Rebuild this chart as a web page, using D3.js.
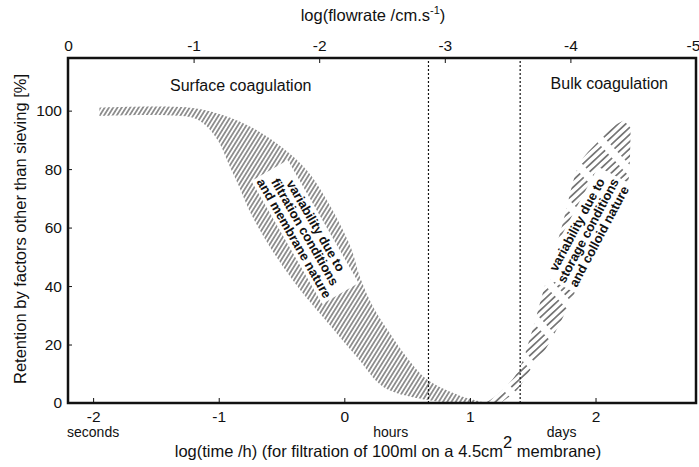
<!DOCTYPE html>
<html>
<head>
<meta charset="utf-8">
<script src="https://cdn.jsdelivr.net/npm/d3@7"></script>
<style>
  body { margin: 0; background: #fff; }
  text { font-family: "Liberation Sans", Arial, Helvetica, sans-serif; fill: #111; }
</style>
</head>
<body>
<svg id="chart" width="699" height="467"></svg>
<script>
// Axis ticks
const timeTicks = [-2, -1, 0, 1, 2];            // log(time /h)
const flowTicks = [0, -1, -2, -3, -4, -5];      // log(flowrate /cm.s-1)
const retentionTicks = [0, 20, 40, 60, 80, 100];
const unitLabels = [
  { at: -2.0, text: "seconds" },
  { at: 0.37, text: "hours" },
  { at: 1.73, text: "days" }
];
// Boundaries between surface and bulk coagulation regimes (log time)
const regimeBounds = [0.67, 1.40];

// Band of variability due to filtration conditions and membrane nature
const filtrationOuter = [[-1.95,101],[-1.23,101],[-0.97,98.5],[-0.70,93.4],[-0.49,87.2],[-0.30,79.7],[-0.14,69.4],[0.05,53.4],[0.125,43],[0.23,32.8],[0.36,24],[0.50,15.5],[0.66,8],[0.92,2.5],[1.14,0]];
const filtrationInner = [[-1.95,98.2],[-1.23,97.8],[-1.12,95.5],[-1.01,90],[-0.91,80.7],[-0.85,75.2],[-0.73,63.6],[-0.54,49.9],[-0.35,38.6],[-0.17,29.4],[0.10,15.7],[0.31,5.5],[0.60,1.5],[0.84,0]];
// Band of variability due to storage conditions and colloid nature
const storageUpper = [[1.12,0],[1.20,2.2],[1.375,10.3],[1.49,23.9],[1.58,37.6],[1.73,60],[1.876,82],[2.01,88.9],[2.155,95],[2.27,97.5]];
const storageLower = [[1.24,0],[1.375,4.4],[1.48,11.3],[1.614,19.2],[1.82,36.3],[2.0,54],[2.17,69.4],[2.25,74],[2.275,85],[2.28,97.5]];

const svg = d3.select("#chart");
const plotLeft = 68, plotRight = 696, plotTop = 58, plotBottom = 403;

const x = d3.scaleLinear().domain([-2.2, 2.8]).range([plotLeft, plotRight]);
const xFlow = d3.scaleLinear().domain([0, -5]).range([plotLeft, plotRight]);
const y = d3.scaleLinear().domain([0, 118]).range([plotBottom, plotTop]);

// Hatch patterns
const defs = svg.append("defs");
const p1 = defs.append("pattern").attr("id", "hatchFiltration")
  .attr("patternUnits", "userSpaceOnUse").attr("width", 3.6).attr("height", 10)
  .attr("patternTransform", "rotate(32)");
p1.append("line").attr("x1", 1.8).attr("y1", 0).attr("x2", 1.8).attr("y2", 10)
  .attr("stroke", "#111").attr("stroke-width", 0.9);
const p2 = defs.append("pattern").attr("id", "hatchStorage")
  .attr("patternUnits", "userSpaceOnUse").attr("width", 5.2).attr("height", 34)
  .attr("patternTransform", "rotate(47)");
p2.append("line").attr("x1", 2.6).attr("y1", 0).attr("x2", 2.6).attr("y2", 34)
  .attr("stroke", "#111").attr("stroke-width", 1).attr("stroke-dasharray", "26,8");

const line = d3.line().x(d => x(d[0])).y(d => y(d[1])).curve(d3.curveCatmullRom.alpha(0.5));
function bandPath(a, b) {
  return line(a) + line(b.slice().reverse()).replace(/^M/, "L") + "Z";
}

svg.append("path").attr("d", bandPath(filtrationOuter, filtrationInner))
  .attr("fill", "url(#hatchFiltration)");
svg.append("path").attr("d", bandPath(storageUpper, storageLower))
  .attr("fill", "url(#hatchStorage)");

// Regime boundaries
svg.selectAll("line.bound").data(regimeBounds).join("line")
  .attr("class", "bound")
  .attr("x1", d => x(d)).attr("x2", d => x(d))
  .attr("y1", y(0)).attr("y2", y(118))
  .attr("stroke", "#111").attr("stroke-width", 1.2).attr("stroke-dasharray", "2,2");

// Band annotations on a white ground
function bandNote(cx, cy, angle, lines) {
  const g = svg.append("g").attr("transform", `translate(${x(cx)},${y(cy)}) rotate(${angle})`);
  const t = g.append("text").attr("text-anchor", "middle")
    .attr("font-size", 13).attr("font-weight", "bold");
  lines.forEach((s, i) => {
    t.append("tspan").attr("x", 0).attr("y", (i - (lines.length - 1) / 2) * 12.5 + 4.5).text(s);
  });
  const bb = t.node().getBBox();
  g.insert("rect", "text").attr("x", bb.x - 3).attr("y", bb.y - 1)
    .attr("width", bb.width + 6).attr("height", bb.height + 2).attr("fill", "#fff");
}
bandNote(-0.313, 58.5, 60, ["variability due to", "filtration conditions", "and membrane nature"]);
bandNote(1.94, 59, -62, ["variability due to", "storage conditions", "and colloid nature"]);

// Axes
const axB = svg.append("g").attr("transform", `translate(0,${plotBottom})`)
  .call(d3.axisBottom(x).tickValues(timeTicks).tickSize(-5).tickPadding(8));
const axT = svg.append("g").attr("transform", `translate(0,${plotTop})`)
  .call(d3.axisTop(xFlow).tickValues(flowTicks).tickSize(-5).tickPadding(7));
const axL = svg.append("g").attr("transform", `translate(${plotLeft},0)`)
  .call(d3.axisLeft(y).tickValues(retentionTicks).tickSize(-4).tickPadding(6));
[axB, axT, axL].forEach(a => {
  a.select(".domain").remove();
  a.selectAll(".tick line").attr("stroke", "#111").attr("stroke-width", 1);
  a.selectAll(".tick text").attr("font-size", 15.5).attr("fill", "#111")
    .attr("font-family", '"Liberation Sans", Arial, sans-serif');
});
axB.selectAll(".tick text").text(d => d < 0 ? "-" + Math.abs(d) : d);
axT.selectAll(".tick text").text(d => d < 0 ? "-" + Math.abs(d) : d)
  .attr("dx", d => d === -5 ? -3 : 0);

// Frame
svg.append("rect").attr("x", plotLeft).attr("y", plotTop)
  .attr("width", plotRight - plotLeft).attr("height", plotBottom - plotTop)
  .attr("fill", "none").attr("stroke", "#111").attr("stroke-width", 2.5);

// Time unit labels
svg.selectAll("text.unit").data(unitLabels).join("text")
  .attr("class", "unit").attr("x", d => x(d.at)).attr("y", 437)
  .attr("text-anchor", "middle").attr("font-size", 14).text(d => d.text);

// Regime titles
svg.append("text").attr("x", 170).attr("y", 91).attr("font-size", 16).text("Surface coagulation");
svg.append("text").attr("x", 668).attr("y", 89).attr("font-size", 16)
  .attr("text-anchor", "end").text("Bulk coagulation");

// Axis titles
const bt = svg.append("text").attr("x", 388).attr("y", 457).attr("text-anchor", "middle").attr("font-size", 16.5);
bt.append("tspan").text("log(time /h) (for filtration of 100ml on a 4.5cm");
bt.append("tspan").attr("dy", -9).text("2");
bt.append("tspan").attr("dy", 9).text(" membrane)");

const tt = svg.append("text").attr("x", 373).attr("y", 21).attr("text-anchor", "middle").attr("font-size", 16.5);
tt.append("tspan").text("log(flowrate /cm.s");
tt.append("tspan").attr("dy", -7).attr("font-size", 11).text("-1");
tt.append("tspan").attr("dy", 7).text(")");

svg.append("text").attr("transform", "translate(26,229) rotate(-90)")
  .attr("text-anchor", "middle").attr("font-size", 16.5)
  .text("Retention by factors other than sieving [%]");
</script>
</body>
</html>
